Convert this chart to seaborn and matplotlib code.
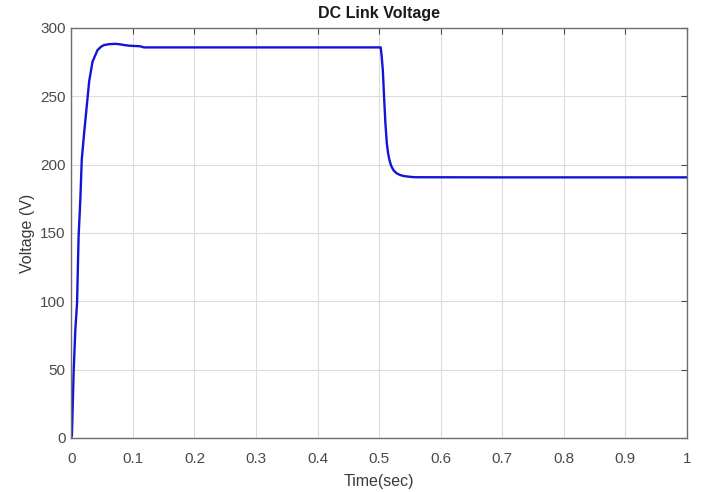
import pandas as pd
import matplotlib
matplotlib.use("Agg")
import matplotlib.pyplot as plt
import seaborn as sns

# values
time_s = [0.0, 0.001, 0.0037, 0.0065, 0.0093, 0.0118, 0.0146, 0.017, 0.021,
          0.0247, 0.029, 0.0344, 0.0425, 0.048, 0.053, 0.062, 0.072, 0.080,
          0.086, 0.095, 0.105, 0.112, 0.118, 0.2, 0.3, 0.4, 0.5025,
          0.504, 0.506, 0.508, 0.5102, 0.5125, 0.5145, 0.5167, 0.5195, 0.5232,
          0.528, 0.534, 0.541, 0.5503, 0.558, 0.7, 0.85, 1.0]
voltage = [0.0, 2.0, 47.3, 79.0, 98.5, 147.0, 174.0, 204.0, 224.0,
           241.0, 261.0, 275.3, 283.8, 286.2, 287.5, 288.2, 288.4, 288.0,
           287.5, 287.0, 286.8, 286.6, 285.8, 285.8, 285.8, 285.8, 285.8,
           280.0, 269.0, 249.7, 230.0, 215.6, 208.5, 203.4, 199.2, 196.0,
           193.8, 192.4, 191.6, 191.1, 190.8, 190.7, 190.7, 190.7]

df = pd.DataFrame({"t": time_s, "v": voltage})

sns.set_style("white")
plt.rcParams['font.family'] = ['Liberation Sans', 'DejaVu Sans']

fig = plt.figure(figsize=(7.04, 4.92), dpi=100)
ax = fig.add_axes([0.1013, 0.1098, 0.8745, 0.8333])

sns.lineplot(data=df, x="t", y="v", ax=ax, color="#1414d8", linewidth=1.7,
             estimator=None, sort=False)

ax.set_xlim(0, 1)
ax.set_ylim(0, 300)
ax.set_xticks([0, 0.1, 0.2, 0.3, 0.4, 0.5, 0.6, 0.7, 0.8, 0.9, 1])
ax.set_xticklabels(["0", "0.1", "0.2", "0.3", "0.4", "0.5", "0.6", "0.7", "0.8", "0.9", "1"])
ax.set_yticks([0, 50, 100, 150, 200, 250, 300])
ax.grid(True, color="#dcdcdc", linewidth=0.8)
ax.tick_params(direction="in", top=True, right=True, length=4, width=0.8,
               colors="#4a4a4a", labelsize=11, pad=4)
ax.tick_params(axis="x", pad=10)
for sp in ax.spines.values():
    sp.set_color("#6e6e6e")
    sp.set_linewidth(1.0)

ax.set_xlabel("Time(sec)", fontsize=11.5, color="#3a3a3a", labelpad=6)
ax.set_ylabel("Voltage (V)", fontsize=11.5, color="#3a3a3a", labelpad=4)
ax.set_title("DC Link Voltage", fontsize=11.5, fontweight="bold", color="#1a1a1a", pad=7)

fig.savefig("out.png", dpi=100, facecolor="white")
